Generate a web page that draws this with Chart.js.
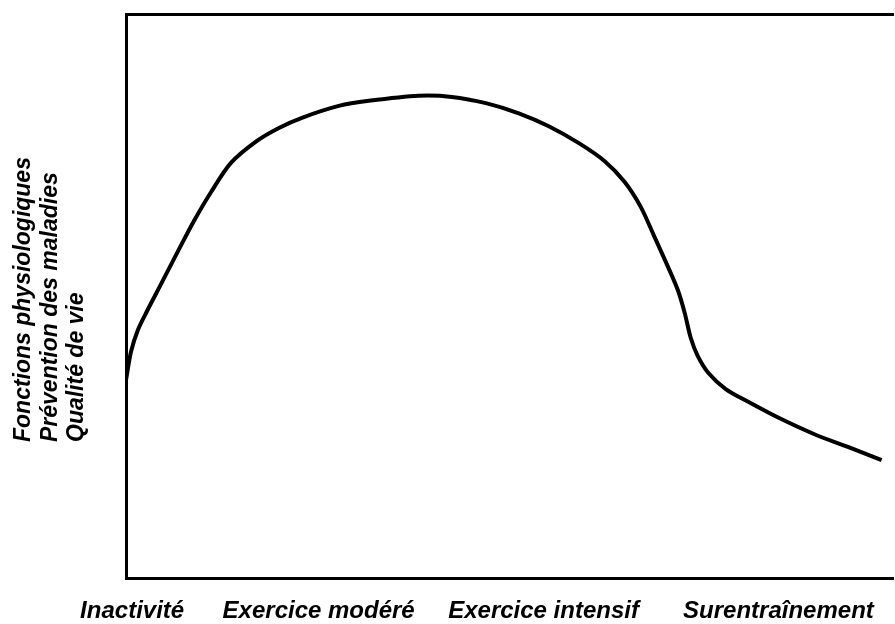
<!DOCTYPE html>
<html>
<head>
<meta charset="utf-8">
<script src="https://cdn.jsdelivr.net/npm/chart.js@4.4.0/dist/chart.umd.min.js"></script>
<style>
  html, body { margin: 0; padding: 0; background: #fff; }
  #wrap { width: 895px; height: 624px; }
</style>
</head>
<body>
<div id="wrap"><canvas id="courbe"></canvas></div>
<script>
// Points de la courbe (échelle 0-100 sur les deux axes)
const curveX = [0, 0.65, 1.56, 2.73, 4.56, 6.64, 8.85, 11.07, 13.67, 17.06, 19.92, 22.92, 27.73, 31.64, 38.15, 42.45, 46.88, 51.17, 55.08, 59.0, 62.37, 64.97, 67.06, 68.75, 70.44, 71.88, 72.79, 73.57, 74.48, 75.91, 78.13, 81.12, 85.03, 89.84, 94.14, 98.44];
const curveY = [35.1, 40.1, 44.0, 47.3, 52.1, 57.6, 63.3, 68.4, 73.6, 77.5, 79.8, 81.6, 83.7, 84.6, 85.5, 85.3, 84.2, 82.4, 80.1, 77.1, 73.9, 70.2, 65.8, 60.8, 55.7, 51.1, 47.0, 42.6, 39.4, 36.3, 33.5, 31.2, 28.4, 25.4, 23.2, 20.9];

// Étiquettes de l'axe horizontal et leur position
const xLabels = ['Inactivité', 'Exercice modéré', 'Exercice intensif', 'Surentraînement'];
const xLabelPos = [0.8, 25.1, 54.4, 85];

// Titre vertical (trois lignes)
const yTitle = ['Fonctions physiologiques', 'Prévention des maladies', 'Qualité de vie'];

const points = curveX.map((x, i) => ({ x, y: curveY[i] }));

// Titre vertical aligné à gauche (bas) comme dans l'original
const yTitlePlugin = {
    id: 'yTitle',
    afterDraw(chart) {
        const ctx = chart.ctx;
        const bottom = 442;
        ctx.save();
        ctx.fillStyle = '#000';
        ctx.font = 'italic bold 23px "Liberation Sans", Arial, sans-serif';
        ctx.textAlign = 'left';
        ctx.textBaseline = 'alphabetic';
        yTitle.forEach((line, i) => {
            ctx.save();
            ctx.translate(30 + i * 26.5, bottom);
            ctx.rotate(-Math.PI / 2);
            ctx.fillText(line, 0, 0);
            ctx.restore();
        });
        ctx.restore();
    }
};

new Chart(document.getElementById('courbe').getContext('2d'), {
    type: 'line',
    data: {
        datasets: [{
            data: points,
            borderColor: '#000',
            borderWidth: 4,
            pointRadius: 0,
            fill: false,
            tension: 0.3
        }]
    },
    options: {
        responsive: true,
        maintainAspectRatio: false,
        animation: false,
        layout: { padding: { left: 126, top: 14, right: 0, bottom: -20 } },
        plugins: {
            legend: { display: false },
            tooltip: { enabled: false }
        },
        scales: {
            x: {
                type: 'linear',
                min: 0,
                max: 100,
                grid: { display: false, drawTicks: false },
                border: { display: true, width: 3, color: '#000' },
                afterBuildTicks: axis => {
                    axis.ticks = xLabelPos.map(v => ({ value: v }));
                },
                ticks: {
                    autoSkip: false,
                    maxRotation: 0,
                    padding: 21,
                    color: '#000',
                    font: { family: '"Liberation Sans", Arial, sans-serif', size: 24, style: 'italic', weight: 'bold', lineHeight: 1 },
                    callback: (value, index) => xLabels[index]
                }
            },
            x2: {
                type: 'linear',
                position: 'top',
                min: 0,
                max: 100,
                grid: { display: false, drawTicks: false },
                ticks: { display: false },
                border: { display: true, width: 3, color: '#000' }
            },
            y: {
                min: 0,
                max: 100,
                grid: { display: false, drawTicks: false },
                ticks: { display: false },
                border: { display: true, width: 3, color: '#000' }
            }
        }
    },
    plugins: [yTitlePlugin]
});
</script>
</body>
</html>
